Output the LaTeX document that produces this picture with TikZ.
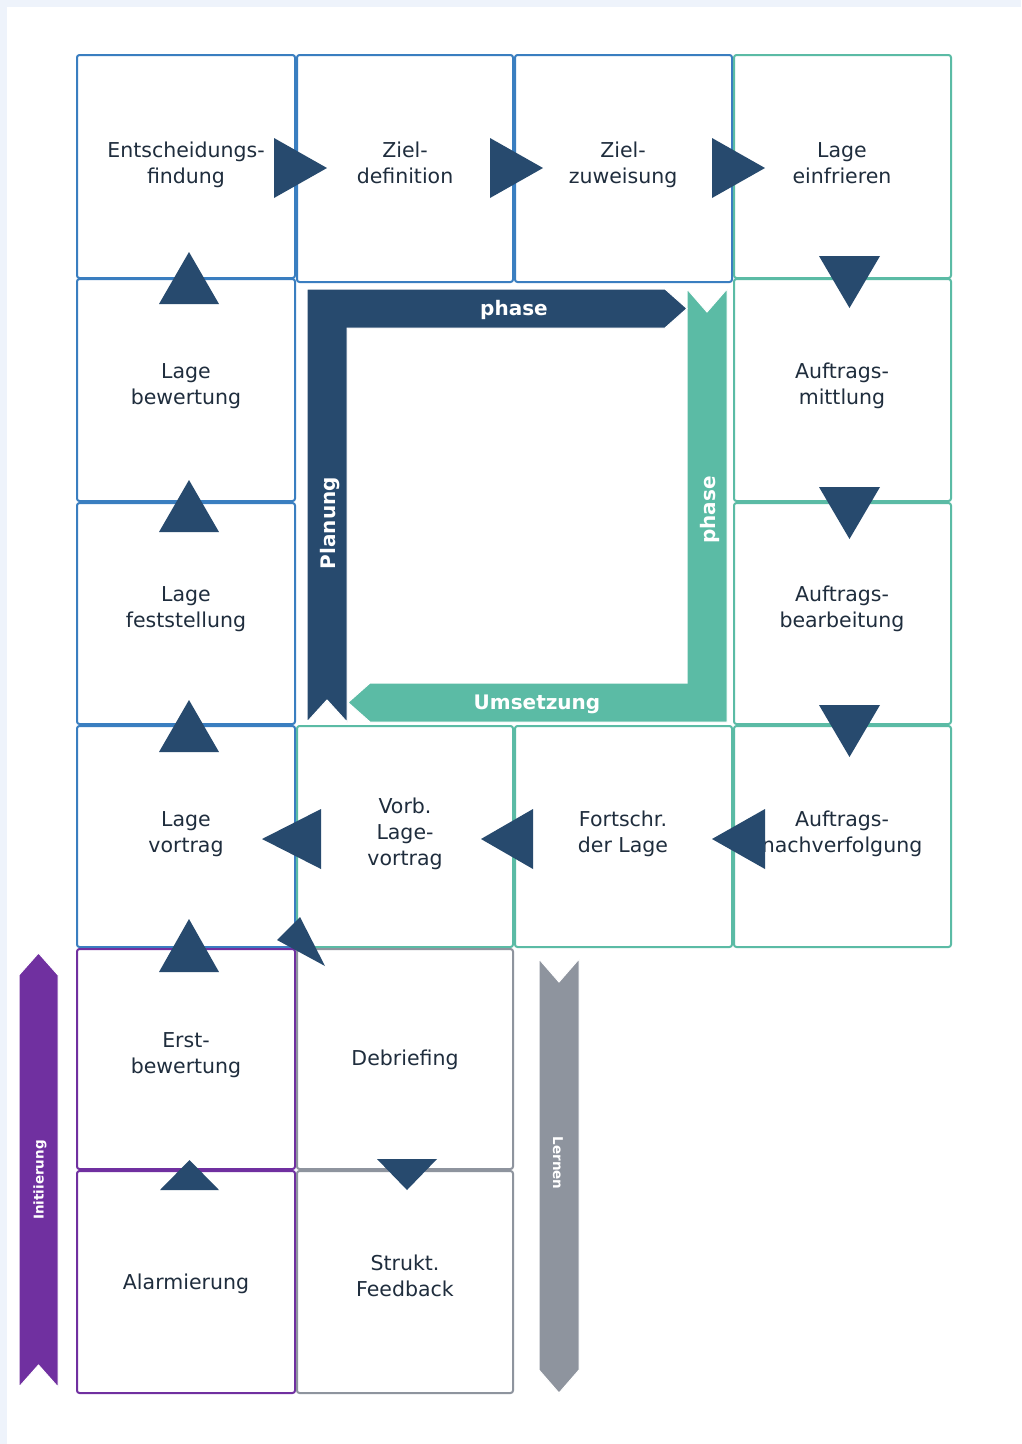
\documentclass[tikz,border=0pt]{standalone}
\usepackage{fontspec}
\setmainfont{DejaVu Sans}
\definecolor{cblue}{RGB}{58,126,192}
\definecolor{cteal}{RGB}{91,187,165}
\definecolor{cpurple}{RGB}{112,48,160}
\definecolor{cgray}{RGB}{142,148,158}
\definecolor{cnavy}{RGB}{39,74,110}
\definecolor{ctext}{RGB}{31,45,61}
\definecolor{cpage}{RGB}{238,243,251}
% one label line with a fixed strut so every line has the same height
\newcommand\lline[1]{\strut#1}
\begin{document}
\begin{tikzpicture}[x=1pt,y=-1pt,
  cell/.style={draw=#1, fill=white, line width=2pt, rounded corners=2.5pt,
    inner sep=0pt, minimum width=217pt, minimum height=222pt},
  lbl/.style={text=ctext, align=center, inner sep=0pt,
    font=\fontsize{20.5}{26}\selectfont},
  bandtxt/.style={text=white, inner sep=0pt, text height=14pt, text depth=0pt,
    font=\bfseries\fontsize{20}{24}\selectfont},
  sidetxt/.style={text=white, inner sep=0pt,
    font=\bfseries\fontsize{13.5}{16}\selectfont},
  band/.style={fill=#1, draw=white, line width=1pt},
  tri/.style={fill=cnavy}]

% page
\useasboundingbox (0,0) rectangle (1021,1444);
\fill[cpage] (0,0) rectangle (1021,1444);
\fill[white] (7,7) rectangle (1021,1444);

% grid of process steps
\node[cell=cblue, minimum width=218pt, minimum height=223pt] (ent) at (186,166.5) {};
\node[cell=cblue, minimum width=216pt, minimum height=227pt] (zdef) at (405,168.5) {};
\node[cell=cblue, minimum height=227pt] (zzuw) at (623.5,168.5) {};
\node[cell=cteal, minimum height=223pt] (einf) at (842.5,166.5) {};

\node[cell=cblue, minimum width=218pt] (bew) at (186,390) {};
\node[cell=cteal] (mitt) at (842.5,390) {};

\node[cell=cblue, minimum width=218pt, minimum height=221pt] (fest) at (186,613.5) {};
\node[cell=cteal, minimum height=221pt] (bearb) at (842.5,613.5) {};

\node[cell=cblue, minimum width=218pt, minimum height=221pt] (vort) at (186,836.5) {};
\node[cell=cteal, minimum width=216pt, minimum height=221pt] (vorb) at (405,836.5) {};
\node[cell=cteal, minimum height=221pt] (fort) at (623.5,836.5) {};
\node[cell=cteal, minimum height=221pt] (nach) at (842.5,836.5) {};

\node[cell=cpurple, minimum width=218pt, minimum height=220pt] (erst) at (186,1059) {};
\node[cell=cgray, minimum width=216pt, minimum height=220pt] (deb) at (405,1059) {};

\node[cell=cpurple, minimum width=218pt] (alarm) at (186,1282) {};
\node[cell=cgray, minimum width=216pt] (feed) at (405,1282) {};

% step labels
\node[lbl] (t-ent)   at (186,165.5)  {\lline{Entscheidungs-}\\\lline{findung}};
\node[lbl] (t-zdef)  at (405,165.5)  {\lline{Ziel-}\\\lline{definition}};
\node[lbl] (t-zzuw)  at (623,165.5)  {\lline{Ziel-}\\\lline{zuweisung}};
\node[lbl] (t-einf)  at (842,165.5)  {\lline{Lage}\\\lline{einfrieren}};
\node[lbl] (t-bew)   at (186,386.5)  {\lline{Lage}\\\lline{bewertung}};
\node[lbl] (t-mitt)  at (842,386.5)  {\lline{Auftrags-}\\\lline{mittlung}};
\node[lbl] (t-fest)  at (186,609.5)  {\lline{Lage}\\\lline{feststellung}};
\node[lbl] (t-bearb) at (842,609.5)  {\lline{Auftrags-}\\\lline{bearbeitung}};
\node[lbl] (t-vort)  at (186,834.5)  {\lline{Lage}\\\lline{vortrag}};
\node[lbl] (t-vorb)  at (405,834)    {\lline{Vorb.}\\\lline{Lage-}\\\lline{vortrag}};
\node[lbl] (t-fort)  at (623,834.5)  {\lline{Fortschr.}\\\lline{der Lage}};
\node[lbl] (t-nach)  at (842,834.5)  {\lline{Auftrags-}\\\lline{nachverfolgung}};
\node[lbl] (t-erst)  at (186,1055.5) {\lline{Erst-}\\\lline{bewertung}};
\node[lbl] (t-deb)   at (405,1060)   {\lline{Debriefing}};
\node[lbl] (t-alarm) at (186,1284)   {\lline{Alarmierung}};
\node[lbl] (t-feed)  at (405,1278.5) {\lline{Strukt.}\\\lline{Feedback}};

% implementation phase band (teal L)
\fill[band=cteal] (687,289) -- (707,312) -- (727,289) -- (727,722) -- (370,722)
  -- (348,702.5) -- (370,683) -- (687,683) -- cycle;
% planning phase band (navy L)
\fill[band=cnavy] (307,289) -- (665,289) -- (687,308.5) -- (665,328) -- (347,328)
  -- (347,722) -- (327,700) -- (307,722) -- cycle;

\node[bandtxt] (b-phase1) at (514,308) {phase};
\node[bandtxt, rotate=90] (b-plan) at (328,523) {Planung};
\node[bandtxt, rotate=90] (b-phase2) at (708,510) {phase};
\node[bandtxt] (b-ums) at (537,702.5) {Umsetzung};

% side bands
\fill[band=cpurple] (19,975) -- (38.5,953) -- (58,975) -- (58,1387) -- (38.5,1365)
  -- (19,1387) -- cycle;
\node[sidetxt, rotate=90] (s-init) at (40,1180) {Initiierung};
\fill[band=cgray] (539,959) -- (559,982) -- (579,959) -- (579,1370) -- (559,1393)
  -- (539,1370) -- cycle;
\node[sidetxt, rotate=-90] (s-lern) at (558,1163) {Lernen};

% flow markers: top row to the right
\fill[tri] (274,138) -- (327,168) -- (274,198) -- cycle;
\fill[tri] (490,138) -- (543,168) -- (490,198) -- cycle;
\fill[tri] (712,138) -- (765,168) -- (712,198) -- cycle;
% right column downwards
\fill[tri] (819,256) -- (880,256) -- (849.5,308) -- cycle;
\fill[tri] (819,487) -- (880,487) -- (849.5,539) -- cycle;
\fill[tri] (819,705) -- (880,705) -- (849.5,757) -- cycle;
% fourth row to the left
\fill[tri] (765,809) -- (712,839) -- (765,869) -- cycle;
\fill[tri] (533,809) -- (481,839) -- (533,869) -- cycle;
\fill[tri] (321,809) -- (262,839) -- (321,869) -- cycle;
% left column upwards
\fill[tri] (159,304) -- (189,252) -- (219,304) -- cycle;
\fill[tri] (159,532) -- (189,480) -- (219,532) -- cycle;
\fill[tri] (159,752) -- (189,700) -- (219,752) -- cycle;
\fill[tri] (159,972) -- (189,919) -- (219,972) -- cycle;
\fill[tri] (160,1190) -- (189.5,1160) -- (219,1190) -- cycle;
% learning column
\fill[tri] (377,1159) -- (437,1159) -- (407,1190) -- cycle;
\fill[tri] (277,940) -- (300,917) -- (325,966) -- cycle;

\end{tikzpicture}
\end{document}
